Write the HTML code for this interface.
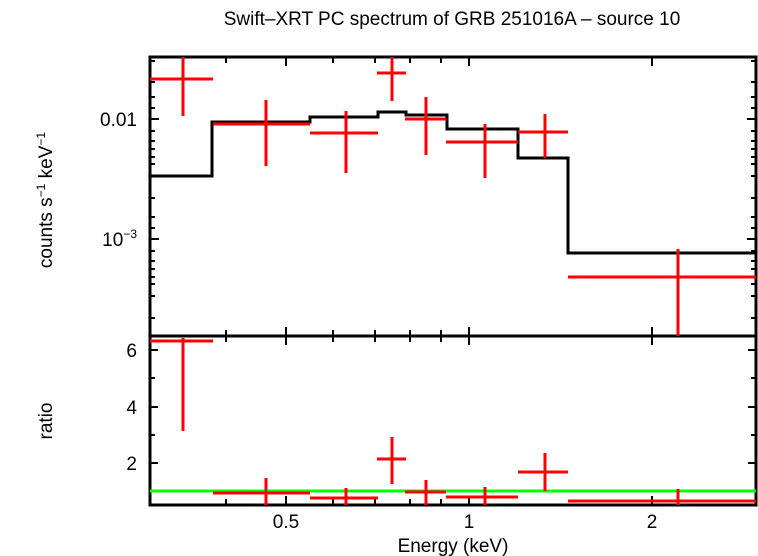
<!DOCTYPE html>
<html><head><meta charset="utf-8"><style>body{margin:0;background:#fff}svg{display:block}</style></head><body>
<svg width="758" height="556" xmlns="http://www.w3.org/2000/svg" font-family="Liberation Sans, sans-serif">
<rect width="758" height="556" fill="#fff"/>
<text x="452" y="25" font-size="19" text-anchor="middle">Swift–XRT PC spectrum of GRB 251016A – source 10</text>
<g stroke="#000" stroke-width="2">
<path d="M226 57v6M286 57v9M333 57v6M375 57v6M410 57v6M441 57v6M469 57v9M652 57v9
M226 336v-6M286 336v-9M333 336v-6M375 336v-6M410 336v-6M441 336v-6M469 336v-9M652 336v-9
M226 336v6M286 336v9M333 336v6M375 336v6M410 336v6M441 336v6M469 336v9M652 336v9
M226 505v-6M286 505v-9M333 505v-6M375 505v-6M410 505v-6M441 505v-6M469 505v-9M652 505v-9"/>
<path d="M150 119h9M150 239h9M756 119h-9M756 239h-9
M150 61h5M150 82h5M150 97h5M150 108h5M150 131h5M150 141h5M150 149h5M150 157h5M150 164h5M150 176h5M150 198h5M150 217h5M150 228h5M150 251h5M150 261h5M150 269h5M150 277h5M150 284h5M150 296h5M150 318h5
M756 61h-5M756 82h-5M756 97h-5M756 108h-5M756 131h-5M756 141h-5M756 149h-5M756 157h-5M756 164h-5M756 176h-5M756 198h-5M756 217h-5M756 228h-5M756 251h-5M756 261h-5M756 269h-5M756 277h-5M756 284h-5M756 296h-5M756 318h-5"/>
<path d="M150 350h8M150 407h8M150 463h8M150 378h5M150 435h5M150 491h5M756 350h-8M756 407h-8M756 463h-8M756 378h-5M756 435h-5M756 491h-5"/>
</g>
<rect x="150" y="57" width="606" height="448" fill="none" stroke="#000" stroke-width="3"/>
<line x1="150" y1="336" x2="756" y2="336" stroke="#000" stroke-width="3"/>
<path d="M150 176H212V122H310V117H378V112H406V115H447V129H518V158H568V253H756" fill="none" stroke="#000" stroke-width="3"/>
<g stroke="#f00" stroke-width="3" fill="none">
<path d="M150 79H213M183 57V116"/>
<path d="M213 124H310M266 100V166"/>
<path d="M310 133H378M346 111V173"/>
<path d="M377 73H406M392 57V101"/>
<path d="M405 119H446M426 97V155"/>
<path d="M446 142H518M485 124V178"/>
<path d="M518 132H568M545 114V158"/>
<path d="M568 277H756M678 249V336"/>
</g>
<line x1="150" y1="491" x2="756" y2="491" stroke="#0f0" stroke-width="3"/>
<g stroke="#f00" stroke-width="3" fill="none">
<path d="M150 341H213M183 338V431"/>
<path d="M213 493H310M266 478V505"/>
<path d="M310 498H378M346 488V505"/>
<path d="M377 459H406M392 437V484"/>
<path d="M405 492H446M426 480V505"/>
<path d="M446 497H518M485 487V505"/>
<path d="M518 472H568M545 453V491"/>
<path d="M568 501H756M678 489V505"/>
</g>
<g font-size="19" text-anchor="middle">
<text x="286" y="528">0.5</text><text x="469" y="528">1</text><text x="652" y="528">2</text>
<text x="453" y="552">Energy (keV)</text>
</g>
<g font-size="19" text-anchor="end">
<text x="137" y="126">0.01</text>
<text x="137" y="246">10<tspan font-size="12" dy="-8">−3</tspan></text>
<text x="137" y="357">6</text><text x="137" y="414">4</text><text x="137" y="470">2</text>
</g>
<text transform="translate(52,200) rotate(-90)" font-size="19" text-anchor="middle">counts s<tspan font-size="12" dy="-7">−1</tspan><tspan dy="7"> keV</tspan><tspan font-size="12" dy="-7">−1</tspan></text>
<text transform="translate(52,421) rotate(-90)" font-size="19" text-anchor="middle">ratio</text>
</svg>
</body></html>
